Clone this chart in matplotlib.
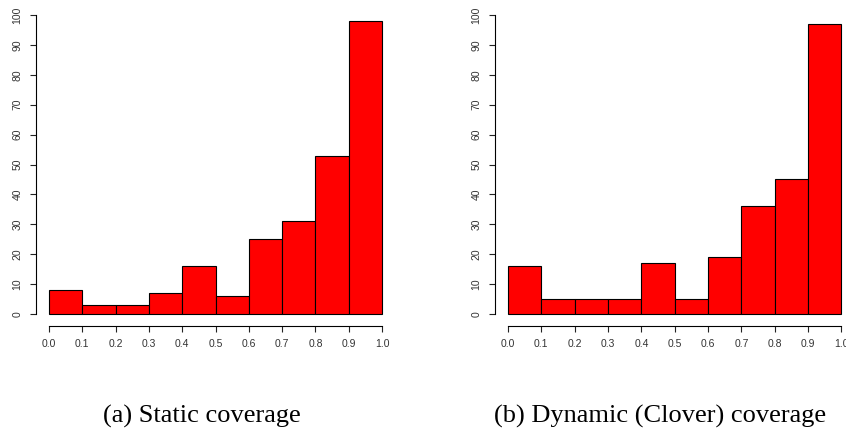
import numpy as np
import matplotlib
matplotlib.use('Agg')
import matplotlib.pyplot as plt

# histogram bins (coverage fraction) and counts
bin_edges = [0.0, 0.1, 0.2, 0.3, 0.4, 0.5, 0.6, 0.7, 0.8, 0.9, 1.0]
static_counts = [8, 3, 3, 7, 16, 6, 25, 31, 53, 98]
dynamic_counts = [16, 5, 5, 5, 17, 5, 19, 36, 45, 97]
captions = ['(a) Static coverage', '(b) Dynamic (Clover) coverage']
xticks = [0.0, 0.1, 0.2, 0.3, 0.4, 0.5, 0.6, 0.7, 0.8, 0.9, 1.0]
yticks = [0, 10, 20, 30, 40, 50, 60, 70, 80, 90, 100]

W, H = 846, 433
fig = plt.figure(figsize=(W / 100, H / 100), dpi=100)

def rpanel(rect, counts, caption, cap_x):
    ax = fig.add_axes(rect)
    edges = np.array(bin_edges)
    ax.bar(edges[:-1], counts, width=np.diff(edges), align='edge',
           color='#ff0000', edgecolor='black', linewidth=0.8)
    ax.set_xlim(-0.04, 1.04)
    ax.set_ylim(-4, 104)
    ax.spines['top'].set_visible(False)
    ax.spines['right'].set_visible(False)
    ax.spines['left'].set_bounds(0, 100)
    ax.spines['bottom'].set_bounds(0, 1)
    for s in ('left', 'bottom'):
        ax.spines[s].set_linewidth(0.8)
    ax.set_xticks(xticks)
    ax.set_xticklabels(['%.1f' % v for v in xticks])
    ax.set_yticks(yticks)
    ax.set_yticklabels([str(v) for v in yticks], rotation=90, va='center')
    ax.tick_params(axis='both', length=4.5, width=0.8, labelsize=7.5,
                   colors='#222222', labelcolor='#333333')
    ax.tick_params(axis='x', pad=5)
    ax.tick_params(axis='y', pad=5)
    for lab in ax.get_xticklabels() + ax.get_yticklabels():
        lab.set_fontfamily('Liberation Sans')
    fig.text(cap_x / W, 1 - 416 / H, caption, ha='center', va='center',
             fontsize=19, family='Liberation Serif')
    return ax

bottom = (H - 326) / H
height = 323 / H
rpanel([35.7 / W, bottom, 359.6 / W, height], static_counts, captions[0], 202)
rpanel([494.7 / W, bottom, 360 / W, height], dynamic_counts, captions[1], 660)

fig.savefig('out.png', dpi=100)
